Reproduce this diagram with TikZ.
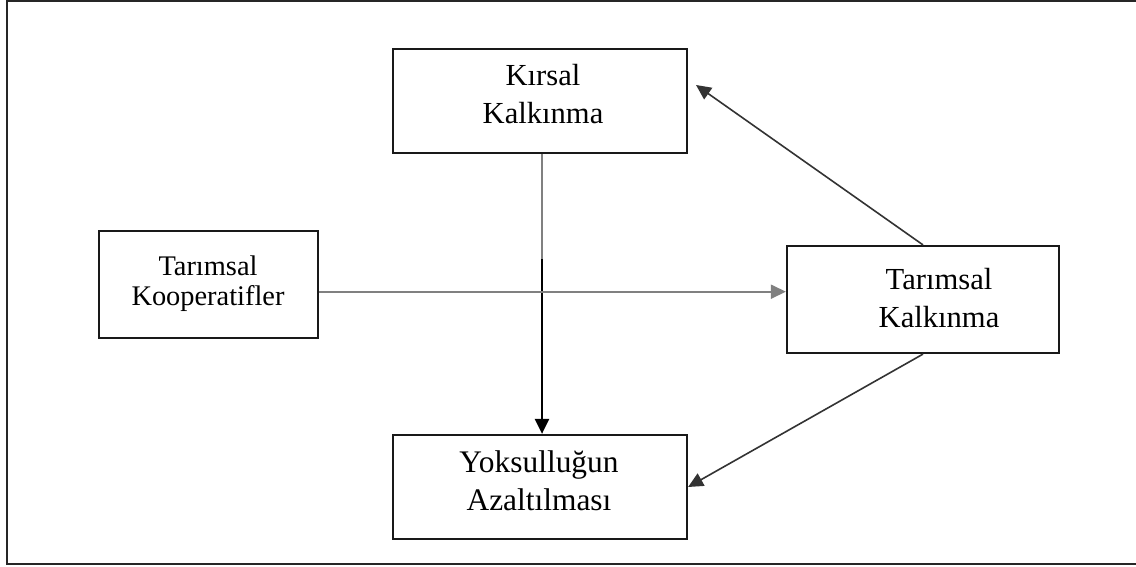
\documentclass[tikz,border=0pt]{standalone}
\usepackage{fontspec}
\setmainfont{Liberation Serif}
\usetikzlibrary{arrows.meta}
\tikzset{
  box/.style={draw=black!90, line width=1.1pt, fill=white, inner sep=0pt},
  lbl/.style={align=center, inner sep=0pt, text=black},
  gline/.style={draw=black!50, line width=0.85pt},
  dline/.style={draw=black!80, line width=0.8pt},
  bline/.style={draw=black, line width=1.3pt},
  tip/.style={-{Triangle[length=7.5pt,width=7pt]}}
}
\begin{document}
\begin{tikzpicture}[x=0.5pt,y=-0.5pt]
\useasboundingbox (0,0) rectangle (1136,567);
\fill[white] (0,0) rectangle (1136,567);
% outer frame (right side cut off)
\draw[draw=black!85, line width=1.2pt] (1136,1) -- (7,1) -- (7,564) -- (1136,564);

% boxes
\node[box, minimum width=147pt, minimum height=52pt] (kb) at (540,101) {};
\node[box, minimum width=109.5pt, minimum height=53.5pt] (kob) at (208.5,284.5) {};
\node[box, minimum width=136pt, minimum height=53.5pt] (tkb) at (923,299.5) {};
\node[box, minimum width=147pt, minimum height=52pt] (yb) at (540,487) {};

% texts
\node[lbl, font=\fontsize{15.3}{19}\selectfont] (kt) at (543,94.5) {Kırsal\\Kalkınma};
\node[lbl, font=\fontsize{14.2}{15}\selectfont] (kot) at (208,283.5) {Tarımsal\\Kooperatifler};
\node[lbl, font=\fontsize{15.3}{19}\selectfont] (tkt) at (939,297.75) {Tarımsal\\Kalkınma};
\node[lbl, font=\fontsize{15.7}{19}\selectfont] (yt) at (539,480.4) {Yoksulluğun\\Azaltılması};

% connectors
\coordinate (jn) at (542,259);
\coordinate (kin) at (696,85);
\draw[gline] ([xshift=1pt]kb.south) -- (jn);
\draw[bline, tip] (jn) -- (jn |- yb.north);
\draw[gline, tip] ([yshift=-3.6pt]kob.east) -- ([yshift=-3.6pt]kob.east -| tkb.west);
\draw[dline, tip] (tkb.north) -- (kin);
\draw[dline, tip] (tkb.south) -- (yb.east);
\end{tikzpicture}
\end{document}
